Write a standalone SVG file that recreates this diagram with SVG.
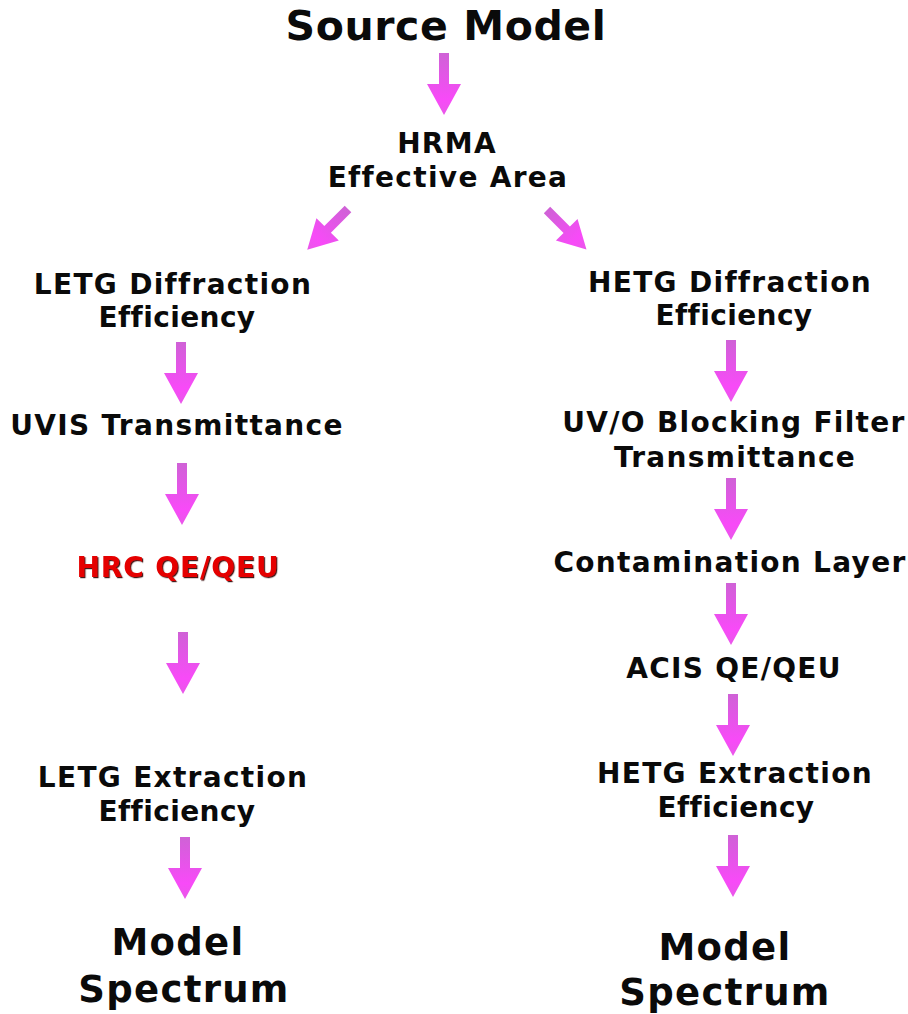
<svg xmlns="http://www.w3.org/2000/svg" xmlns:xlink="http://www.w3.org/1999/xlink" width="908" height="1014" viewBox="0 0 908 1014">
  <defs>
    <linearGradient id="arrowFill" x1="0" y1="0" x2="0" y2="1">
      <stop offset="0" stop-color="#cf62d6"/>
      <stop offset="0.75" stop-color="#f84af8"/>
      <stop offset="1" stop-color="#e858e8"/>
    </linearGradient>
    <!-- block arrow pointing down, tail at origin -->
    <path id="arrow" d="M-5,0 H5 V31 H17 L0,62 L-17,31 H-5 Z" fill="url(#arrowFill)"/>
    <filter id="redShadow" x="-10%" y="-30%" width="120%" height="160%">
      <feDropShadow dx="1.2" dy="1.2" stdDeviation="0.6" flood-color="#300" flood-opacity="0.9"/>
    </filter>
  </defs>
  <style>
    text { font-family: "DejaVu Sans", "Liberation Sans", sans-serif; font-weight: bold; text-anchor: middle; fill: #0a0a0a; }
    .big { font-size: 41px; letter-spacing: 0.6px; }
    .end { font-size: 37px; letter-spacing: 1.3px; }
    .step { font-size: 28px; letter-spacing: 1.3px; }
    .eff { letter-spacing: 0.4px; }
    .hrc { fill: #e50000; filter: url(#redShadow); letter-spacing: 0.9px; }
  </style>
  <rect width="908" height="1014" fill="#fff"/>

  <g id="source-model"><text class="big" x="446" y="40">Source Model</text></g>
  <g id="hrma"><text class="step" x="447" y="153">HRMA</text><text class="step" x="448" y="187">Effective Area</text></g>

  <g id="letg-diffraction"><text class="step" x="173" y="294">LETG Diffraction</text><text class="step eff" x="177" y="327">Efficiency</text></g>
  <g id="uvis"><text class="step" x="177" y="435">UVIS Transmittance</text></g>
  <g id="hrc"><text class="step hrc" x="178" y="577">HRC QE/QEU</text></g>
  <g id="letg-extraction"><text class="step" x="173" y="787">LETG Extraction</text><text class="step eff" x="177" y="821">Efficiency</text></g>
  <g id="model-left"><text class="end" x="178" y="955">Model</text><text class="end" x="184" y="1002">Spectrum</text></g>

  <g id="hetg-diffraction"><text class="step" x="730" y="292">HETG Diffraction</text><text class="step eff" x="734" y="325">Efficiency</text></g>
  <g id="uvo-filter"><text class="step" x="734" y="432">UV/O Blocking Filter</text><text class="step" x="735" y="467">Transmittance</text></g>
  <g id="contamination"><text class="step" x="730" y="572">Contamination Layer</text></g>
  <g id="acis"><text class="step" x="734" y="678">ACIS QE/QEU</text></g>
  <g id="hetg-extraction"><text class="step" x="735" y="783">HETG Extraction</text><text class="step eff" x="736" y="817">Efficiency</text></g>
  <g id="model-right"><text class="end" x="725" y="960">Model</text><text class="end" x="725" y="1005">Spectrum</text></g>

  <g id="connectors">
    <use xlink:href="#arrow" transform="translate(444,53)"/>
    <use xlink:href="#arrow" transform="translate(348,209) rotate(45) scale(0.93)"/>
    <use xlink:href="#arrow" transform="translate(547,210) rotate(-45) scale(0.9)"/>

    <use xlink:href="#arrow" transform="translate(181,342)"/>
    <use xlink:href="#arrow" transform="translate(182,463)"/>
    <use xlink:href="#arrow" transform="translate(183,632)"/>
    <use xlink:href="#arrow" transform="translate(185,837)"/>

    <use xlink:href="#arrow" transform="translate(731,340)"/>
    <use xlink:href="#arrow" transform="translate(731,478)"/>
    <use xlink:href="#arrow" transform="translate(731,583)"/>
    <use xlink:href="#arrow" transform="translate(733,694)"/>
    <use xlink:href="#arrow" transform="translate(733,835)"/>
  </g>
</svg>
